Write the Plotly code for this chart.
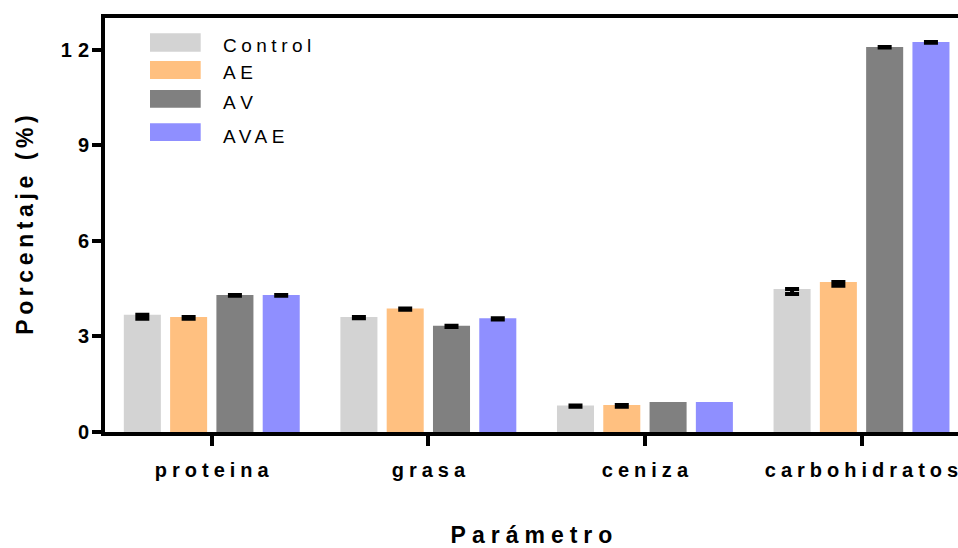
import plotly.graph_objects as go

# Composition per parameter and treatment (%)
categories = ["proteina", "grasa", "ceniza", "carbohidratos"]
series_names = ["Control", "AE", "AV", "AVAE"]
control = [3.68, 3.61, 0.83, 4.49]
ae = [3.61, 3.88, 0.85, 4.71]
av = [4.30, 3.34, 0.94, 12.09]
avae = [4.30, 3.57, 0.94, 12.25]

# Downward spread drawn under each mean (None = no error bar drawn)
control_err = [0.12, 0.04, 0.04, 0.16]
ae_err = [0.05, 0.04, 0.06, 0.12]
av_err = [0.02, 0.04, None, 0.02]
avae_err = [0.02, 0.04, None, 0.03]

y_ticks = [0, 3, 6, 9, 12]
y_tick_labels = ["0", "3", "6", "9", "12"]

colors = ["#D3D3D3", "#FFC080", "#808080", "#8F8FFF"]

W, H = 958, 548
M_L, M_R, M_T, M_B = 105, 0, 18, 116
PW, PH = W - M_L - M_R, H - M_T - M_B

FONT = "Liberation Sans, Arial, Helvetica, sans-serif"


def spaced(text, px):
    # letter spacing between characters only (none after the last one)
    if len(text) < 2:
        return text
    return f'<span style="letter-spacing:{px}px">{text[:-1]}</span>{text[-1]}'


def bar_trace(name, values, errs, color):
    # plotly.js skips the error bar of any point beyond the end of the
    # error arrays, so points without one are moved to the end
    order = [i for i, e in enumerate(errs) if e is not None]
    order += [i for i, e in enumerate(errs) if e is None]
    n_err = sum(e is not None for e in errs)
    return go.Bar(
        name=name,
        x=[categories[i] for i in order],
        y=[values[i] for i in order],
        marker=dict(color=color, line=dict(width=0)),
        error_y=dict(
            type="data",
            symmetric=False,
            array=[0] * n_err,
            arrayminus=[errs[i] for i in order[:n_err]],
            color="black",
            thickness=4,
            width=7,
        ),
        showlegend=False,
        hoverinfo="x+y+name",
    )


fig = go.Figure()
for name, vals, errs, col in zip(
    series_names,
    [control, ae, av, avae],
    [control_err, ae_err, av_err, avae_err],
    colors,
):
    fig.add_trace(bar_trace(name, vals, errs, col))


def px_x(px):
    return (px - M_L) / PW


def px_y(py):
    return (M_T + PH - py) / PH


# Legend: swatch boxes with spaced labels
legend_rows = [(33.3, 51.7, 45.5), (61, 79, 72.5), (90, 107.7, 102), (123.3, 141, 136)]
shapes = []
annotations = []
for (top, bottom, text_y), name, col in zip(legend_rows, series_names, colors):
    shapes.append(dict(
        type="rect", xref="paper", yref="paper",
        x0=px_x(150), x1=px_x(200.7), y0=px_y(bottom), y1=px_y(top),
        fillcolor=col, line=dict(width=0), layer="above",
    ))
    annotations.append(dict(
        xref="paper", yref="paper", x=px_x(221), y=px_y(text_y),
        xanchor="left", yanchor="middle", showarrow=False,
        text=spaced(name, 4.5),
        font=dict(family=FONT, size=19, color="black"),
    ))

fig.update_layout(
    width=W,
    height=H,
    autosize=False,
    template="none",
    paper_bgcolor="white",
    plot_bgcolor="white",
    margin=dict(l=M_L, r=M_R, t=M_T, b=M_B, pad=0),
    barmode="group",
    bargap=0.145,
    bargroupgap=0.2,
    shapes=shapes,
    annotations=annotations,
    showlegend=False,
    xaxis=dict(
        type="category",
        categoryorder="array",
        categoryarray=categories,
        range=[-0.493, 3.4455],
        showline=True,
        linewidth=4,
        linecolor="black",
        mirror=True,
        showgrid=False,
        zeroline=False,
        ticks="outside",
        ticklen=10,
        tickwidth=4,
        tickcolor="black",
        tickmode="array",
        tickvals=categories,
        ticktext=[spaced(c, 5) for c in categories],
        tickfont=dict(family=FONT, size=20, color="black", weight="bold"),
        ticklabelstandoff=7,
        automargin=False,
        title=dict(
            text=spaced("Parámetro", 6),
            font=dict(family=FONT, size=23, color="black", weight="bold"),
            standoff=51,
        ),
    ),
    yaxis=dict(
        range=[0, 13],
        showline=True,
        linewidth=4,
        linecolor="black",
        showgrid=False,
        zeroline=False,
        ticks="outside",
        ticklen=9,
        tickwidth=4,
        tickcolor="black",
        tickmode="array",
        tickvals=y_ticks,
        ticktext=[spaced(t, 6) for t in y_tick_labels],
        tickfont=dict(family=FONT, size=20, color="black", weight="bold"),
        ticklabelstandoff=-1,
        automargin=False,
        title=dict(
            text=spaced("Porcentaje (%)", 4.6),
            font=dict(family=FONT, size=23, color="black", weight="bold"),
            standoff=22,
        ),
    ),
)

fig.write_html("out.html")
